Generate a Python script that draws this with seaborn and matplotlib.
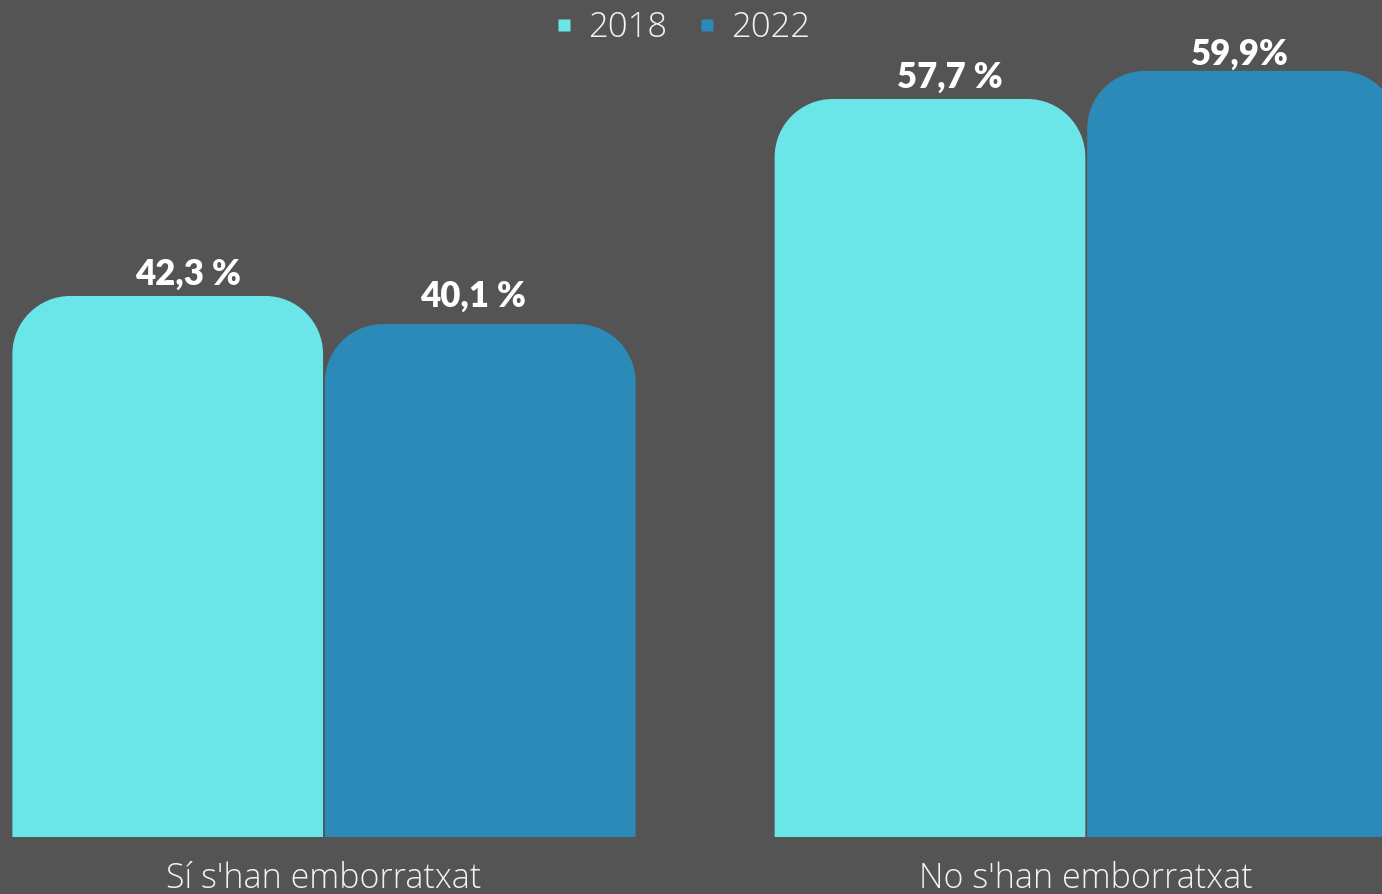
import matplotlib
matplotlib.use("Agg")
import matplotlib.pyplot as plt
from matplotlib.path import Path
from matplotlib.patches import PathPatch
from matplotlib.lines import Line2D
import seaborn as sns
import pandas as pd

categories = ["Sí s'han emborratxat", "No s'han emborratxat"]
years = ["2018", "2022"]
values_2018 = [42.3, 57.7]
values_2022 = [40.1, 59.9]
labels_2018 = ["42,3 %", "57,7 %"]
labels_2022 = ["40,1 %", "59,9%"]

bg = "#545454"
palette = ["#6ae6e9", "#2b8ab8"]
text_col = "#f2f2f2"

df = pd.DataFrame({
    "cat": categories * 2,
    "year": [years[0]] * 2 + [years[1]] * 2,
    "val": values_2018 + values_2022,
})

sns.set_theme(style="white")
plt.rcParams["font.family"] = ["Open Sans", "DejaVu Sans"]

fig = plt.figure(figsize=(13.82, 8.94), dpi=100, facecolor=bg)
ax = fig.add_axes([0, 57 / 894, 1, 837 / 894])
ax.set_facecolor(bg)

sns.barplot(data=df, x="cat", y="val", hue="year", palette=palette,
            saturation=1, width=0.82, gap=0.006, legend=False, ax=ax)

ax.set_xlim(-0.425, 1.388)
ax.set_ylim(0, 65.44)

# swap plain rectangles for bars with rounded top corners
px_x = 1382 / (1.388 + 0.425)
px_y = 837 / 65.44
r = 58
rx, ry = r / px_x, r / px_y
k = 0.5523
bars = list(ax.patches)
for b in bars:
    x0, y0 = b.get_x(), 0
    x1, y1 = x0 + b.get_width(), b.get_height()
    verts = [
        (x0, y0), (x0, y1 - ry),
        (x0, y1 - ry + k * ry), (x0 + rx - k * rx, y1), (x0 + rx, y1),
        (x1 - rx, y1),
        (x1 - rx + k * rx, y1), (x1, y1 - ry + k * ry), (x1, y1 - ry),
        (x1, y0), (x0, y0),
    ]
    codes = [Path.MOVETO, Path.LINETO,
             Path.CURVE4, Path.CURVE4, Path.CURVE4,
             Path.LINETO,
             Path.CURVE4, Path.CURVE4, Path.CURVE4,
             Path.LINETO, Path.CLOSEPOLY]
    ax.add_patch(PathPatch(Path(verts, codes), facecolor=b.get_facecolor(),
                           edgecolor="none", linewidth=0))
    b.remove()

# value labels (offsets in px, as in the original layout)
labels = labels_2018 + labels_2022
shift_x = [20, 20, -7, -3]
shift_y = [11, 11, 17, 6]
for b, lab, dx, dy in zip(bars, labels, shift_x, shift_y):
    ax.annotate(lab, (b.get_x() + b.get_width() / 2, b.get_height()),
                xytext=(dx * 0.72, dy * 0.72), textcoords="offset points",
                ha="center", va="baseline", color="white",
                fontsize=25, fontweight="heavy", family=["Lato", "DejaVu Sans"])

ax.set_xticks(range(len(categories)))
ax.set_xticklabels(categories, fontsize=24.5, fontweight="light", color=text_col)
ax.tick_params(axis="x", length=0, pad=18)
ax.set_yticks([])
ax.set_xlabel("")
ax.set_ylabel("")
sns.despine(left=True, bottom=True)

handles = [Line2D([0], [0], marker="s", linestyle="none", markersize=9,
                  markerfacecolor=c, markeredgecolor="none") for c in palette]
leg = fig.legend(handles, years, loc="center", bbox_to_anchor=(680 / 1382, 1 - 28 / 894),
                 ncol=2, frameon=False, fontsize=25, handletextpad=0.3,
                 columnspacing=0.75, handlelength=0.8)
for t in leg.get_texts():
    t.set_color(text_col)
    t.set_fontweight("light")

fig.savefig("out.png", dpi=100, facecolor=bg)
